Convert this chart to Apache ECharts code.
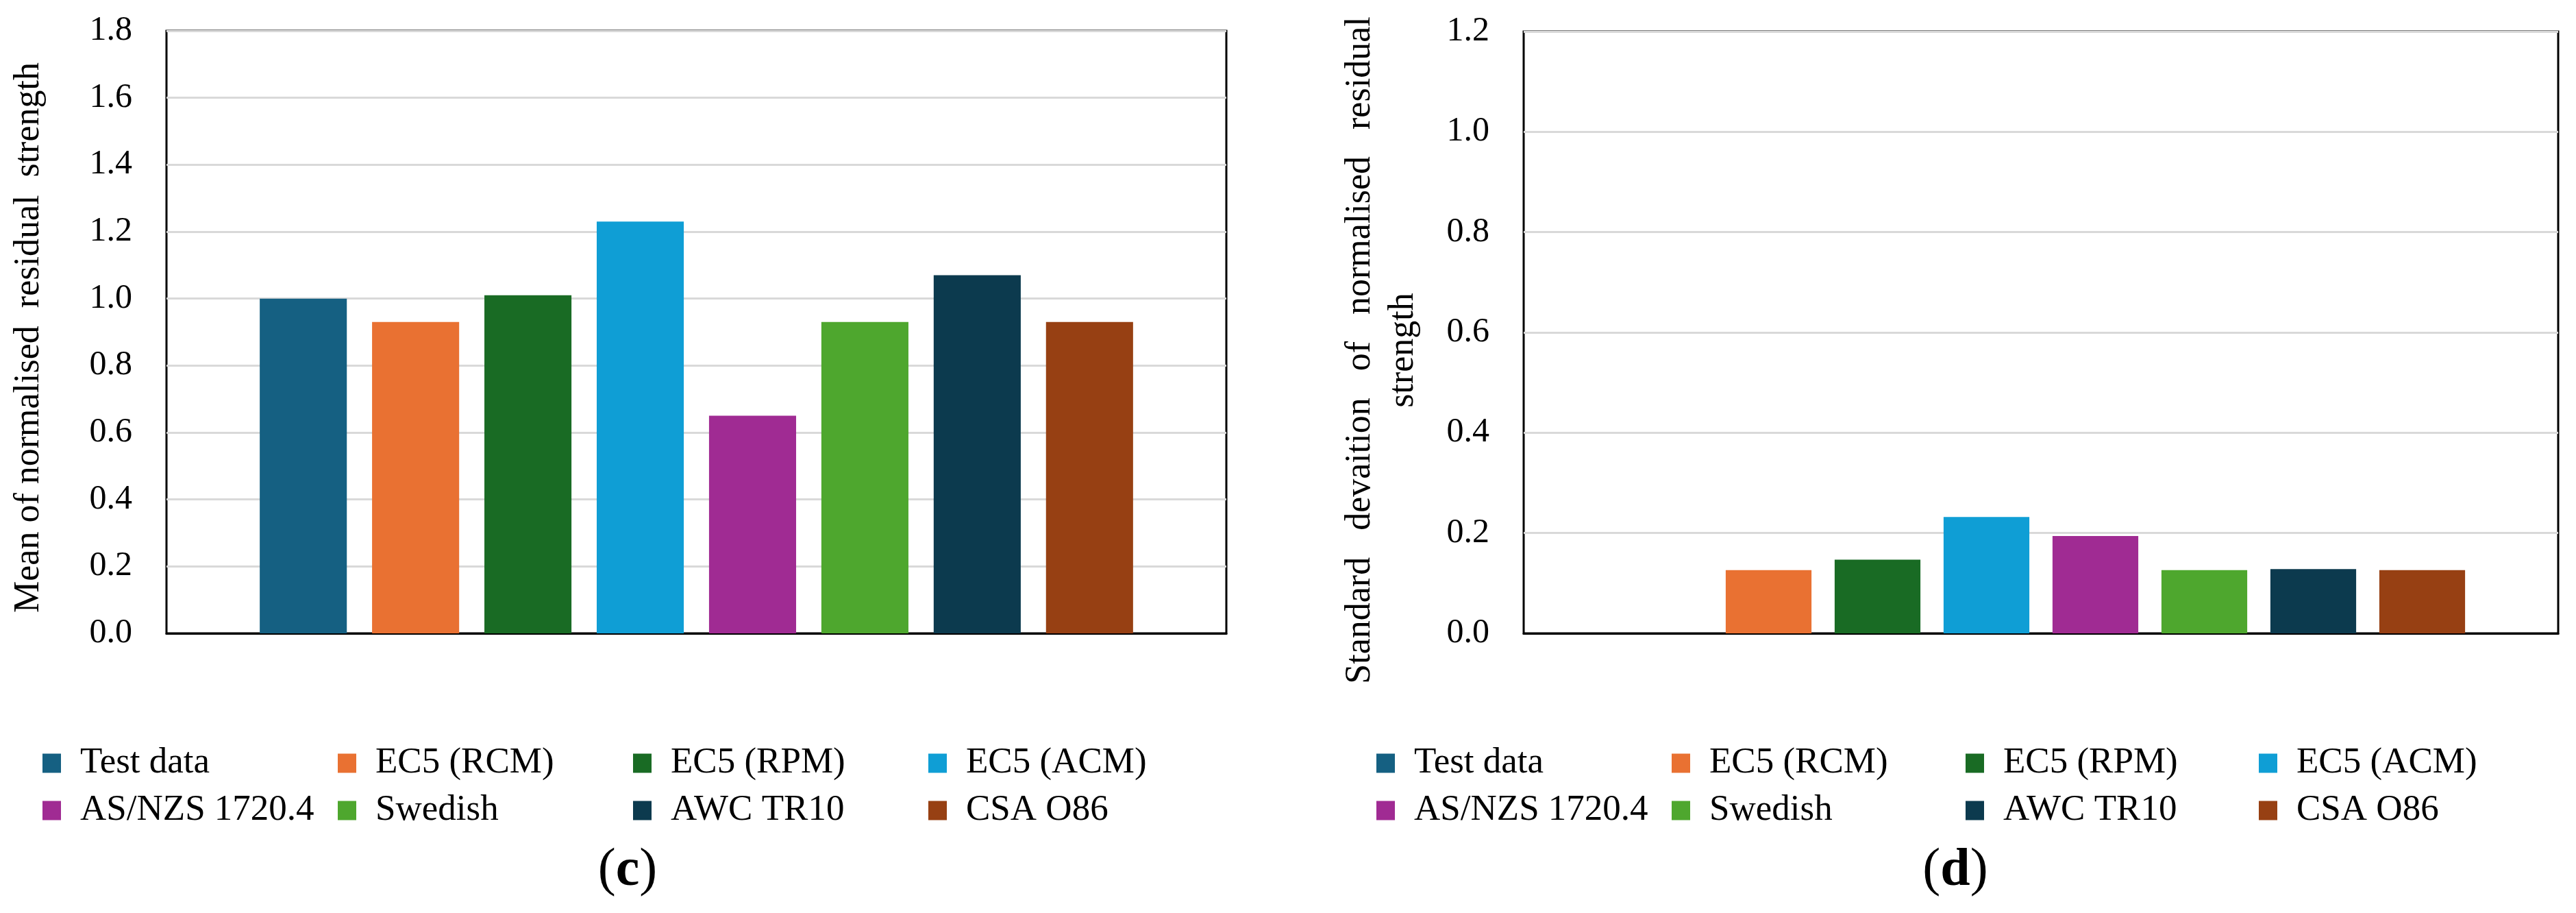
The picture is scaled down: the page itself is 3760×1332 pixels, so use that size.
<!DOCTYPE html>
<html>
<head>
<meta charset="utf-8">
<script src="https://cdn.jsdelivr.net/npm/echarts@6/dist/echarts.min.js"></script>
<style>
    html, body {margin: 0; padding: 0; background: #fff;}
    #chart {width: 3760px; height: 1332px;}
</style>
</head>
<body>
<div id="chart"></div>
<script>
// series shown in both panels (one bar per method)
const seriesNames = ['Test data', 'EC5 (RCM)', 'EC5 (RPM)', 'EC5 (ACM)', 'AS/NZS 1720.4', 'Swedish', 'AWC TR10', 'CSA O86'];
const seriesColors = ['#156082', '#E97132', '#196B24', '#0F9ED5', '#A02B93', '#4EA72E', '#0C3A4E', '#974013'];

// (c) mean, (d) standard deviation; test data has no bar in (d)
const meanValues = [1.00, 0.93, 1.01, 1.23, 0.65, 0.93, 1.07, 0.93];
const stdValues = [null, 0.126, 0.147, 0.232, 0.194, 0.126, 0.128, 0.126];

// y axis ranges [min, max, step]
const meanAxis = [0, 1.8, 0.2];
const stdAxis = [0, 1.2, 0.2];

const panelLabels = ['c', 'd'];

const FONT = 'Liberation Serif';
let chart = echarts.init(document.getElementById('chart'));

function yAxisFor(gridIndex, range, name, nameGap, nameStyle) {
    return {
        type: 'value',
        gridIndex: gridIndex,
        min: range[0],
        max: range[1],
        interval: range[2],
        name: name,
        nameLocation: 'middle',
        nameRotate: 90,
        nameGap: nameGap,
        nameTextStyle: Object.assign({fontFamily: FONT, fontSize: 52, color: '#000'}, nameStyle || {}),
        axisLine: {show: false},
        axisTick: {show: false},
        axisLabel: {
            margin: 50,
            fontFamily: FONT,
            fontSize: 50,
            fontWeight: 'normal',
            color: '#000',
            formatter: v => v.toFixed(1)
        },
        splitLine: {lineStyle: {color: '#d9d9d9', width: 3}}
    };
}

function xAxisFor(gridIndex) {
    return {
        type: 'category',
        gridIndex: gridIndex,
        data: [''],
        axisLine: {lineStyle: {color: '#000', width: 3}},
        axisTick: {show: false},
        axisLabel: {show: false}
    };
}

function barSeries(values, gridIndex, gap, catGap) {
    return seriesNames.map((name, i) => ({
        name: name,
        type: 'bar',
        xAxisIndex: gridIndex,
        yAxisIndex: gridIndex,
        data: [values[i]],
        barGap: gap,
        barCategoryGap: catGap,
        itemStyle: {color: seriesColors[i]},
        emphasis: {disabled: true}
    }));
}

// legend: 4 columns x 2 rows under each panel, one component per entry
const legendCols = [[62, 493, 924, 1355], [2009, 2440, 2869, 3297]];
const legendRows = [1087, 1156];
let legends = [];
legendCols.forEach(cols => {
    seriesNames.forEach((name, i) => {
        legends.push({
            left: cols[i % 4],
            top: legendRows[Math.floor(i / 4)],
            padding: 0,
            icon: 'rect',
            itemWidth: 27,
            itemHeight: 28,
            selectedMode: false,
            data: [name],
            textStyle: {
                fontFamily: FONT,
                fontSize: 53,
                fontWeight: 'normal',
                color: '#000',
                padding: [0, 0, 0, 23]
            }
        });
    });
});

const labelX = [916, 2854];
let graphics = panelLabels.map((p, i) => ({
    type: 'text',
    x: labelX[i],
    y: 1271,
    style: {
        text: '{p|(}{b|' + p + '}{p|)}',
        align: 'center',
        verticalAlign: 'middle',
        rich: {
            p: {fontFamily: FONT, fontSize: 78, fill: '#000'},
            b: {fontFamily: FONT, fontSize: 78, fontWeight: 'bold', fill: '#000'}
        }
    }
}));

let option = {
    animation: false,
    backgroundColor: '#fff',
    textStyle: {fontFamily: FONT},
    grid: [
        {left: 243, right: 1970, top: 45, bottom: 408, show: true, borderColor: '#000', borderWidth: 3, outerBoundsMode: 'none'},
        {left: 2224, right: 26, top: 46, bottom: 408, show: true, borderColor: '#000', borderWidth: 3, outerBoundsMode: 'none'}
    ],
    xAxis: [xAxisFor(0), xAxisFor(1)],
    yAxis: [
        yAxisFor(0, meanAxis, 'Mean of normalised  residual  strength', 175, {padding: [0, 16, 0, 0]}),
        yAxisFor(1, stdAxis, 'Standard   devaition   of   normalised   residual\nstrength', 144,
            {lineHeight: 63, padding: [0, 52, 0, 0]})
    ],
    legend: legends,
    graphic: graphics,
    series: barSeries(meanValues, 0, '29%', '17.6%').concat(barSeries(stdValues, 1, '27%', '18%'))
};

chart.setOption(option);
</script>
</body>
</html>
